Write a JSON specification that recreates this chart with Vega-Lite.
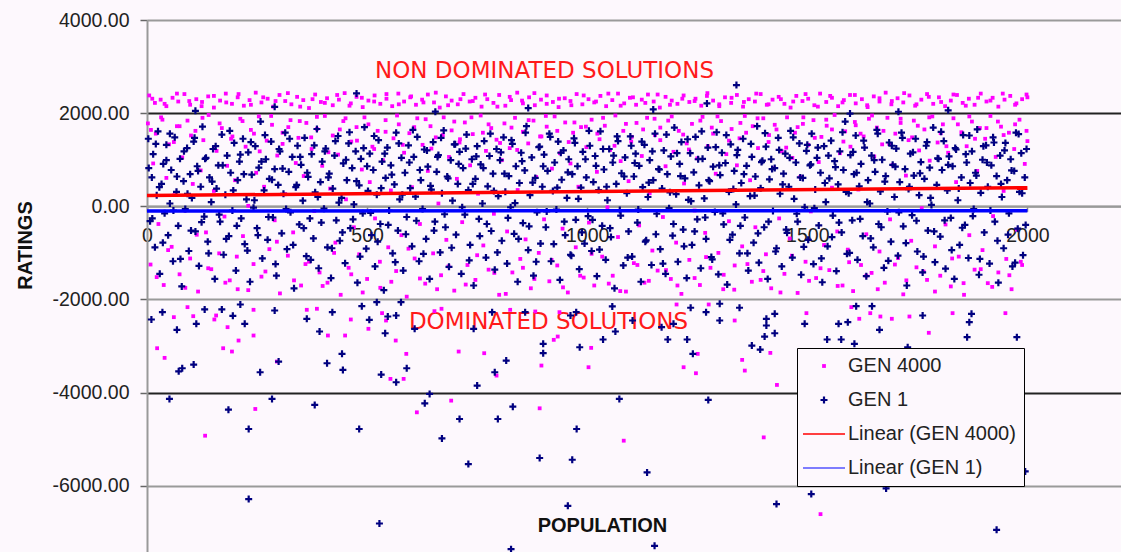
{
"$schema":"https://vega.github.io/schema/vega-lite/v6.json",
"autosize":"none",
"padding":{"left":147,"top":20,"right":0,"bottom":0},
"width":974,
"height":532,
"background":"#fdf8fd",
"config":{"view":{"stroke":null},"font":"Liberation Sans"},
"encoding":{
"x":{"field":"x","type":"quantitative","scale":{"domain":[0,2212.6],"nice":false,"zero":false},
"axis":{"title":"POPULATION","titleFont":"Liberation Sans","titleFontSize":20,"titleFontWeight":"bold","titleColor":"#111","titleX":455,"titleY":319,"titleAlign":"center","titleBaseline":"middle","values":[0,500,1000,1500,2000],"format":"d","labelFont":"Liberation Sans","labelFontSize":19.5,"labelColor":"#222","labelPadding":15,"labelFlush":false,"labelOverlap":false,"tickSize":5,"tickColor":"#888","tickWidth":1.5,"domainColor":"#999","domainWidth":2,"offset":-345.7,"grid":false}},
"y":{"field":"y","type":"quantitative","scale":{"domain":[-7422,4000],"nice":false,"zero":false},
"axis":{"title":"RATINGS","titleFont":"Liberation Sans","titleFontSize":20,"titleFontWeight":"bold","titleColor":"#111","titleX":-122,"titleY":225,"titleAngle":270,"titleAlign":"center","titleBaseline":"middle","values":[-6000,-4000,-2000,0,2000,4000],"labelExpr":"replace(format(datum.value,'.2f'),'\u2212','-')","labelFont":"Liberation Sans","labelFontSize":19.5,"labelColor":"#222","labelPadding":11,"tickSize":7,"tickColor":"#666","tickWidth":1.5,"domainColor":"#999","domainWidth":2,"grid":true,"gridColor":{"condition":{"test":"datum.value === 2000 || datum.value === -4000","value":"#222"},"value":"#9a9a9a"},"gridWidth":2}}
},
"layer":[
{"data":{"values":[{"x":903,"y":2900,"label":"NON DOMINATED SOLUTIONS"},{"x":912,"y":-2490,"label":"DOMINATED SOLUTIONS"}]},
"mark":{"type":"text","font":"DejaVu Sans","fontSize":23,"color":"#ff1a1a","align":"center","baseline":"middle"},
"encoding":{"text":{"field":"label"}}},
{"data":{"values":[
{"x":5,"y":2380},{"x":18,"y":2220},{"x":31,"y":2290},{"x":44,"y":2150},{"x":58,"y":2330},{"x":71,"y":2250},{"x":85,"y":2410},{"x":98,"y":2180},{"x":112,"y":2300},{"x":125,"y":2240},{"x":139,"y":2360},{"x":152,"y":2120},{"x":166,"y":2270},{"x":179,"y":2420},{"x":193,"y":2200},{"x":206,"y":2340},{"x":220,"y":2160},{"x":233,"y":2280},{"x":247,"y":2440},{"x":260,"y":2230},{"x":274,"y":2310},{"x":287,"y":2140},{"x":301,"y":2390},{"x":314,"y":2260},{"x":328,"y":2190},{"x":341,"y":2350},{"x":355,"y":2280},{"x":368,"y":2110},{"x":382,"y":2400},{"x":395,"y":2240},{"x":409,"y":2320},{"x":422,"y":2170},{"x":436,"y":2290},{"x":449,"y":2430},{"x":463,"y":2210},{"x":476,"y":2350},{"x":490,"y":2130},{"x":503,"y":2270},{"x":517,"y":2380},{"x":530,"y":2200},{"x":544,"y":2310},{"x":557,"y":2150},{"x":571,"y":2420},{"x":584,"y":2250},{"x":598,"y":2340},{"x":611,"y":2180},{"x":625,"y":2290},{"x":638,"y":2400},{"x":652,"y":2230},{"x":665,"y":2120},{"x":679,"y":2360},{"x":692,"y":2270},{"x":706,"y":2190},{"x":719,"y":2410},{"x":733,"y":2250},{"x":746,"y":2330},{"x":760,"y":2140},{"x":773,"y":2300},{"x":787,"y":2220},{"x":800,"y":2390},{"x":814,"y":2160},{"x":827,"y":2280},{"x":841,"y":2440},{"x":854,"y":2210},{"x":868,"y":2340},{"x":881,"y":2170},{"x":895,"y":2290},{"x":908,"y":2380},{"x":922,"y":2240},{"x":935,"y":2130},{"x":949,"y":2320},{"x":962,"y":2260},{"x":976,"y":2410},{"x":989,"y":2190},{"x":1003,"y":2300},{"x":1016,"y":2230},{"x":1030,"y":2370},{"x":1043,"y":2150},{"x":1057,"y":2280},{"x":1070,"y":2420},{"x":1084,"y":2210},{"x":1097,"y":2330},{"x":1111,"y":2180},{"x":1124,"y":2290},{"x":1138,"y":2400},{"x":1151,"y":2250},{"x":1165,"y":2120},{"x":1178,"y":2350},{"x":1192,"y":2270},{"x":1205,"y":2200},{"x":1219,"y":2380},{"x":1232,"y":2240},{"x":1246,"y":2310},{"x":1259,"y":2160},{"x":1273,"y":2430},{"x":1286,"y":2270},{"x":1300,"y":2190},{"x":1313,"y":2340},{"x":1327,"y":2220},{"x":1340,"y":2390},{"x":1354,"y":2140},{"x":1367,"y":2300},{"x":1381,"y":2250},{"x":1394,"y":2410},{"x":1408,"y":2180},{"x":1421,"y":2290},{"x":1435,"y":2350},{"x":1448,"y":2200},{"x":1462,"y":2120},{"x":1475,"y":2370},{"x":1489,"y":2260},{"x":1502,"y":2310},{"x":1516,"y":2170},{"x":1529,"y":2420},{"x":1543,"y":2240},{"x":1556,"y":2330},{"x":1570,"y":2150},{"x":1583,"y":2280},{"x":1597,"y":2390},{"x":1610,"y":2210},{"x":1624,"y":2300},{"x":1637,"y":2130},{"x":1651,"y":2360},{"x":1664,"y":2250},{"x":1678,"y":2440},{"x":1691,"y":2190},{"x":1705,"y":2320},{"x":1718,"y":2230},{"x":1732,"y":2380},{"x":1745,"y":2160},{"x":1759,"y":2290},{"x":1772,"y":2410},{"x":1786,"y":2200},{"x":1799,"y":2340},{"x":1813,"y":2150},{"x":1826,"y":2270},{"x":1840,"y":2390},{"x":1853,"y":2220},{"x":1867,"y":2310},{"x":1880,"y":2180},{"x":1894,"y":2420},{"x":1907,"y":2250},{"x":1921,"y":2330},{"x":1934,"y":2140},{"x":1948,"y":2290},{"x":1961,"y":2370},{"x":1975,"y":2210},{"x":1988,"y":2300},{"x":1998,"y":2400},
{"x":12,"y":2310},{"x":40,"y":2200},{"x":68,"y":2420},{"x":96,"y":2260},{"x":124,"y":2150},{"x":152,"y":2370},{"x":180,"y":2230},{"x":208,"y":2410},{"x":236,"y":2180},{"x":264,"y":2340},{"x":292,"y":2260},{"x":320,"y":2430},{"x":348,"y":2140},{"x":376,"y":2300},{"x":404,"y":2220},{"x":432,"y":2390},{"x":460,"y":2160},{"x":488,"y":2330},{"x":516,"y":2250},{"x":544,"y":2410},{"x":572,"y":2190},{"x":600,"y":2360},{"x":628,"y":2230},{"x":656,"y":2440},{"x":684,"y":2170},{"x":712,"y":2300},{"x":740,"y":2260},{"x":768,"y":2400},{"x":796,"y":2140},{"x":824,"y":2350},{"x":852,"y":2270},{"x":880,"y":2430},{"x":908,"y":2200},{"x":936,"y":2310},{"x":964,"y":2170},{"x":992,"y":2380},{"x":1020,"y":2250},{"x":1048,"y":2420},{"x":1076,"y":2160},{"x":1104,"y":2340},{"x":1132,"y":2220},{"x":1160,"y":2400},{"x":1188,"y":2180},{"x":1216,"y":2310},{"x":1244,"y":2260},{"x":1272,"y":2370},{"x":1300,"y":2150},{"x":1328,"y":2330},{"x":1356,"y":2240},{"x":1384,"y":2420},{"x":1412,"y":2190},{"x":1440,"y":2300},{"x":1468,"y":2250},{"x":1496,"y":2410},{"x":1524,"y":2140},{"x":1552,"y":2370},{"x":1580,"y":2230},{"x":1608,"y":2390},{"x":1636,"y":2170},{"x":1664,"y":2320},{"x":1692,"y":2260},{"x":1720,"y":2430},{"x":1748,"y":2190},{"x":1776,"y":2350},{"x":1804,"y":2240},{"x":1832,"y":2400},{"x":1860,"y":2160},{"x":1888,"y":2330},{"x":1916,"y":2270},{"x":1944,"y":2420},{"x":1972,"y":2180},{"x":2000,"y":2340},
{"x":2,"y":1780},{"x":8,"y":-1250},{"x":14,"y":920},{"x":20,"y":1560},{"x":26,"y":-380},{"x":32,"y":1910},{"x":38,"y":-1690},{"x":44,"y":610},{"x":50,"y":1330},{"x":56,"y":-870},{"x":62,"y":240},{"x":68,"y":1720},{"x":74,"y":-1460},{"x":80,"y":1050},{"x":86,"y":-90},{"x":92,"y":1840},{"x":98,"y":-1120},{"x":104,"y":480},{"x":110,"y":1620},{"x":116,"y":-1830},{"x":122,"y":770},{"x":128,"y":1420},{"x":134,"y":-560},{"x":140,"y":1960},{"x":146,"y":-1350},{"x":152,"y":330},{"x":158,"y":1190},{"x":164,"y":-1010},{"x":170,"y":1680},{"x":176,"y":-220},{"x":182,"y":870},{"x":188,"y":-1590},{"x":194,"y":1500},
{"x":200,"y":560},{"x":206,"y":-1780},{"x":212,"y":1880},{"x":218,"y":-640},{"x":224,"y":1280},{"x":230,"y":10},{"x":236,"y":1640},{"x":242,"y":-1240},{"x":248,"y":720},{"x":254,"y":1930},{"x":260,"y":-1510},{"x":266,"y":420},{"x":272,"y":1410},{"x":278,"y":-920},{"x":284,"y":1750},{"x":290,"y":-300},{"x":296,"y":1090},{"x":302,"y":-1870},{"x":308,"y":1580},{"x":314,"y":260},{"x":320,"y":-1060},{"x":326,"y":1850},{"x":332,"y":-560},{"x":338,"y":930},{"x":344,"y":1470},{"x":350,"y":-1700},{"x":356,"y":650},{"x":362,"y":1790},{"x":368,"y":-1190},{"x":374,"y":1230},{"x":380,"y":-100},{"x":386,"y":1660},{"x":392,"y":-1420},
{"x":398,"y":870},{"x":404,"y":1940},{"x":410,"y":-1640},{"x":416,"y":380},{"x":422,"y":1520},{"x":428,"y":-780},{"x":434,"y":1110},{"x":440,"y":-1900},{"x":446,"y":1830},{"x":452,"y":150},{"x":458,"y":-1320},{"x":464,"y":1390},{"x":470,"y":-450},{"x":476,"y":1700},{"x":482,"y":-1030},{"x":488,"y":790},{"x":494,"y":1910},{"x":500,"y":-1560},{"x":506,"y":520},{"x":512,"y":1280},{"x":518,"y":-260},{"x":524,"y":1620},{"x":530,"y":-1750},{"x":536,"y":990},{"x":542,"y":1850},{"x":548,"y":-880},{"x":554,"y":340},{"x":560,"y":1460},{"x":566,"y":-1390},{"x":572,"y":1760},{"x":578,"y":-620},{"x":584,"y":1150},{"x":590,"y":-1940},{"x":596,"y":1570},
{"x":602,"y":410},{"x":608,"y":-1120},{"x":614,"y":1890},{"x":620,"y":-380},{"x":626,"y":1320},{"x":632,"y":-1660},{"x":638,"y":760},{"x":644,"y":1720},{"x":650,"y":-1010},{"x":656,"y":1480},{"x":662,"y":60},{"x":668,"y":-1480},{"x":674,"y":1910},{"x":680,"y":-720},{"x":686,"y":1060},{"x":692,"y":1630},{"x":698,"y":-1810},{"x":704,"y":590},{"x":710,"y":1370},{"x":716,"y":-340},{"x":722,"y":1800},{"x":728,"y":-1260},{"x":734,"y":880},{"x":740,"y":1550},{"x":746,"y":-1580},{"x":752,"y":270},{"x":758,"y":1950},{"x":764,"y":-840},{"x":770,"y":1190},{"x":776,"y":-1360},{"x":782,"y":1680},{"x":788,"y":-160},{"x":794,"y":1430},
{"x":800,"y":-1900},{"x":806,"y":990},{"x":812,"y":1780},{"x":818,"y":-540},{"x":824,"y":1250},{"x":830,"y":-1420},{"x":836,"y":1900},{"x":842,"y":350},{"x":848,"y":-1130},{"x":854,"y":1600},{"x":860,"y":-710},{"x":866,"y":1350},{"x":872,"y":-1760},{"x":878,"y":1840},{"x":884,"y":630},{"x":890,"y":-1000},{"x":896,"y":1500},{"x":902,"y":-280},{"x":908,"y":1710},{"x":914,"y":-1610},{"x":920,"y":810},{"x":926,"y":1930},{"x":932,"y":-1270},{"x":938,"y":1140},{"x":944,"y":-480},{"x":950,"y":1800},{"x":956,"y":-1850},{"x":962,"y":920},{"x":968,"y":1580},{"x":974,"y":-880},{"x":980,"y":420},{"x":986,"y":1700},{"x":992,"y":-1530},{"x":998,"y":1270},
{"x":1004,"y":-350},{"x":1010,"y":1860},{"x":1016,"y":-1700},{"x":1022,"y":740},{"x":1028,"y":1440},{"x":1034,"y":-1080},{"x":1040,"y":1730},{"x":1046,"y":-20},{"x":1052,"y":1210},{"x":1058,"y":-1490},{"x":1064,"y":1950},{"x":1070,"y":-660},{"x":1076,"y":970},{"x":1082,"y":1620},{"x":1088,"y":-1830},{"x":1094,"y":540},{"x":1100,"y":1390},{"x":1106,"y":-1220},{"x":1112,"y":1790},{"x":1118,"y":-410},{"x":1124,"y":1080},{"x":1130,"y":-1640},{"x":1136,"y":1900},{"x":1142,"y":280},{"x":1148,"y":-950},{"x":1154,"y":1530},{"x":1160,"y":-1380},{"x":1166,"y":1690},{"x":1172,"y":-230},{"x":1178,"y":860},{"x":1184,"y":1840},{"x":1190,"y":-1560},{"x":1196,"y":1170},
{"x":1202,"y":-780},{"x":1208,"y":1620},{"x":1214,"y":-1880},{"x":1220,"y":490},{"x":1226,"y":1350},{"x":1232,"y":-1150},{"x":1238,"y":1770},{"x":1244,"y":-90},{"x":1250,"y":1030},{"x":1256,"y":-1690},{"x":1262,"y":1920},{"x":1268,"y":-570},{"x":1274,"y":1290},{"x":1280,"y":-1320},{"x":1286,"y":1560},{"x":1292,"y":700},{"x":1298,"y":-1000},{"x":1304,"y":1830},{"x":1310,"y":-1470},{"x":1316,"y":1120},{"x":1322,"y":-320},{"x":1328,"y":1660},{"x":1334,"y":-1790},{"x":1340,"y":880},{"x":1346,"y":1460},{"x":1352,"y":-860},{"x":1358,"y":1940},{"x":1364,"y":-1240},{"x":1370,"y":560},{"x":1376,"y":1720},{"x":1382,"y":-450},{"x":1388,"y":1250},{"x":1394,"y":-1580},
{"x":1400,"y":1890},{"x":1406,"y":-1030},{"x":1412,"y":1380},{"x":1418,"y":-1760},{"x":1424,"y":820},{"x":1430,"y":1650},{"x":1436,"y":-260},{"x":1442,"y":1180},{"x":1448,"y":-1450},{"x":1454,"y":1910},{"x":1460,"y":-690},{"x":1466,"y":1040},{"x":1472,"y":1580},{"x":1478,"y":-1860},{"x":1484,"y":630},{"x":1490,"y":1770},{"x":1496,"y":-1190},{"x":1502,"y":1320},{"x":1508,"y":-110},{"x":1514,"y":1850},{"x":1520,"y":-1540},{"x":1526,"y":950},{"x":1532,"y":1490},{"x":1538,"y":-830},{"x":1544,"y":1730},{"x":1550,"y":-1370},{"x":1556,"y":400},{"x":1562,"y":1960},{"x":1568,"y":-540},{"x":1574,"y":1140},{"x":1580,"y":-1700},{"x":1586,"y":1610},{"x":1592,"y":-930},{"x":1598,"y":1280},
{"x":1604,"y":-1820},{"x":1610,"y":1740},{"x":1616,"y":360},{"x":1622,"y":-1260},{"x":1628,"y":1500},{"x":1634,"y":-600},{"x":1640,"y":1880},{"x":1646,"y":-1430},{"x":1652,"y":1070},{"x":1658,"y":1690},{"x":1664,"y":-970},{"x":1670,"y":1330},{"x":1676,"y":-1640},{"x":1682,"y":1900},{"x":1688,"y":-280},{"x":1694,"y":890},{"x":1700,"y":1560},{"x":1706,"y":-1110},{"x":1712,"y":1790},{"x":1718,"y":-1890},{"x":1724,"y":660},{"x":1730,"y":1420},{"x":1736,"y":-740},{"x":1742,"y":1840},{"x":1748,"y":-1310},{"x":1754,"y":1200},{"x":1760,"y":-40},{"x":1766,"y":1650},{"x":1772,"y":-1580},{"x":1778,"y":980},{"x":1784,"y":1930},{"x":1790,"y":-860},{"x":1796,"y":1370},
{"x":1802,"y":-1490},{"x":1808,"y":1760},{"x":1814,"y":-390},{"x":1820,"y":1150},{"x":1826,"y":-1720},{"x":1832,"y":1890},{"x":1838,"y":520},{"x":1844,"y":-1080},{"x":1850,"y":1590},{"x":1856,"y":-1900},{"x":1862,"y":1290},{"x":1868,"y":-620},{"x":1874,"y":1820},{"x":1880,"y":-1360},{"x":1886,"y":760},{"x":1892,"y":1680},{"x":1898,"y":-940},{"x":1904,"y":1450},{"x":1910,"y":-1650},{"x":1916,"y":1940},{"x":1922,"y":-210},{"x":1928,"y":1060},{"x":1934,"y":-1420},{"x":1940,"y":1710},{"x":1946,"y":330},{"x":1952,"y":-1130},{"x":1958,"y":1580},{"x":1964,"y":-1780},{"x":1970,"y":1230},{"x":1976,"y":-500},{"x":1982,"y":1860},{"x":1988,"y":-1260},{"x":1994,"y":910},{"x":2000,"y":1400},
{"x":9,"y":1640},{"x":22,"y":-1520},{"x":35,"y":1860},{"x":48,"y":-940},{"x":61,"y":1380},{"x":74,"y":1720},{"x":87,"y":-1750},{"x":100,"y":1520},{"x":113,"y":-610},{"x":126,"y":1900},{"x":139,"y":-1330},{"x":152,"y":1250},{"x":165,"y":1780},{"x":178,"y":-1640},{"x":191,"y":1450},{"x":204,"y":-1080},{"x":217,"y":1830},{"x":230,"y":-1800},{"x":243,"y":1560},{"x":256,"y":1180},{"x":269,"y":-1400},{"x":282,"y":1940},{"x":295,"y":-760},{"x":308,"y":1340},{"x":321,"y":1700},
{"x":334,"y":-1590},{"x":347,"y":1830},{"x":360,"y":-1240},{"x":373,"y":1480},{"x":386,"y":1920},{"x":399,"y":-1710},{"x":412,"y":1160},{"x":425,"y":-1000},{"x":438,"y":1650},{"x":451,"y":1890},{"x":464,"y":-1460},{"x":477,"y":1410},{"x":490,"y":-1850},{"x":503,"y":1760},{"x":516,"y":1230},{"x":529,"y":-1190},{"x":542,"y":1600},{"x":555,"y":-1620},{"x":568,"y":1950},{"x":581,"y":1320},{"x":594,"y":-910},{"x":607,"y":1700},{"x":620,"y":-1550},{"x":633,"y":1870},{"x":646,"y":1240},
{"x":659,"y":-1780},{"x":672,"y":1530},{"x":685,"y":-1290},{"x":698,"y":1820},{"x":711,"y":1440},{"x":724,"y":-1680},{"x":737,"y":1910},{"x":750,"y":-1050},{"x":763,"y":1580},{"x":776,"y":1760},{"x":789,"y":-1430},{"x":802,"y":1360},{"x":815,"y":-1880},{"x":828,"y":1690},{"x":841,"y":1210},{"x":854,"y":-1320},{"x":867,"y":1850},{"x":880,"y":-1560},{"x":893,"y":1500},{"x":906,"y":1940},{"x":919,"y":-1150},{"x":932,"y":1620},{"x":945,"y":-1740},{"x":958,"y":1380},{"x":971,"y":1800},
{"x":984,"y":-1490},{"x":997,"y":1710},{"x":1010,"y":-1020},{"x":1023,"y":1560},{"x":1036,"y":1900},{"x":1049,"y":-1660},{"x":1062,"y":1300},{"x":1075,"y":-1820},{"x":1088,"y":1770},{"x":1101,"y":1490},{"x":1114,"y":-1260},{"x":1127,"y":1650},{"x":1140,"y":-1600},{"x":1153,"y":1880},{"x":1166,"y":1420},{"x":1179,"y":-1370},{"x":1192,"y":1930},{"x":1205,"y":-1700},{"x":1218,"y":1540},{"x":1231,"y":1220},{"x":1244,"y":-1540},{"x":1257,"y":1840},{"x":1270,"y":-1090},{"x":1283,"y":1690},{"x":1296,"y":1930},
{"x":1309,"y":-1780},{"x":1322,"y":1410},{"x":1335,"y":-1270},{"x":1348,"y":1790},{"x":1361,"y":1580},{"x":1374,"y":-1620},{"x":1387,"y":1890},{"x":1400,"y":-1390},{"x":1413,"y":1530},{"x":1426,"y":1750},{"x":1439,"y":-1850},{"x":1452,"y":1260},{"x":1465,"y":-1060},{"x":1478,"y":1700},{"x":1491,"y":1910},{"x":1504,"y":-1600},{"x":1517,"y":1470},{"x":1530,"y":-1330},{"x":1543,"y":1860},{"x":1556,"y":1650},{"x":1569,"y":-1710},{"x":1582,"y":1390},{"x":1595,"y":-1200},{"x":1608,"y":1810},{"x":1621,"y":1560},
{"x":1634,"y":-1490},{"x":1647,"y":1950},{"x":1660,"y":-1780},{"x":1673,"y":1620},{"x":1686,"y":1340},{"x":1699,"y":-1250},{"x":1712,"y":1880},{"x":1725,"y":-1590},{"x":1738,"y":1480},{"x":1751,"y":1730},{"x":1764,"y":-1400},{"x":1777,"y":1910},{"x":1790,"y":-1830},{"x":1803,"y":1570},{"x":1816,"y":1290},{"x":1829,"y":-1120},{"x":1842,"y":1760},{"x":1855,"y":-1650},{"x":1868,"y":1930},{"x":1881,"y":1450},{"x":1894,"y":-1350},{"x":1907,"y":1680},{"x":1920,"y":-1730},{"x":1933,"y":1820},{"x":1946,"y":1530},{"x":1959,"y":-1480},{"x":1972,"y":1760},{"x":1985,"y":-1190},{"x":1998,"y":1620},
{"x":92,"y":-2165},{"x":61,"y":-2380},{"x":105,"y":-2359},{"x":157,"y":-2344},{"x":153,"y":-2430},{"x":183,"y":-2595},{"x":242,"y":-2222},{"x":242,"y":-2774},{"x":208,"y":-2882},{"x":23,"y":-3047},{"x":40,"y":-3254},{"x":173,"y":-3047},{"x":193,"y":-3118},{"x":295,"y":-3333},{"x":363,"y":-2222},{"x":386,"y":-2200},{"x":411,"y":-2774},{"x":450,"y":-2774},{"x":463,"y":-2430},{"x":503,"y":-2630},{"x":534,"y":-2294},{"x":543,"y":-2452},{"x":565,"y":-2882},{"x":589,"y":-3168},{"x":553,"y":-3705},{"x":583,"y":-3705},{"x":246,"y":-4351},{"x":132,"y":-4925},{"x":613,"y":-4423},{"x":691,"y":-4172},{"x":653,"y":-2251},{"x":669,"y":-2200},{"x":708,"y":-3118},
{"x":766,"y":-3154},{"x":794,"y":-3634},{"x":896,"y":-3419},{"x":924,"y":-2867},{"x":933,"y":-2796},{"x":1009,"y":-3039},{"x":1003,"y":-3455},{"x":1219,"y":-3455},{"x":1247,"y":-3584},{"x":1251,"y":-3168},{"x":1352,"y":-3297},{"x":1358,"y":-3527},{"x":1416,"y":-3147},{"x":1431,"y":-3835},{"x":1335,"y":-2452},{"x":1276,"y":-2108},{"x":1203,"y":-2108},{"x":937,"y":-2273},{"x":882,"y":-2258},{"x":825,"y":-2222},{"x":892,"y":-4337},{"x":1083,"y":-5032},{"x":1401,"y":-4961},
{"x":1498,"y":-2294},{"x":1600,"y":-2165},{"x":1643,"y":-2294},{"x":1666,"y":-2366},{"x":1692,"y":-2415},{"x":1732,"y":-2366},{"x":1830,"y":-2294},{"x":1950,"y":-2294},{"x":1618,"y":-2415},{"x":1776,"y":-2716},{"x":1530,"y":-6609}
]},
"mark":{"type":"point","filled":true,"size":100,"opacity":1,"strokeWidth":0},
"encoding":{
"color":{"datum":"GEN 4000","type":"nominal","scale":{"domain":["GEN 4000","GEN 1","Linear (GEN 4000)","Linear (GEN 1)"],"range":["#ff00ff","#000080","#ff0000","#0000ff"]},
"legend":{"title":null,"orient":"none","legendX":650,"legendY":328,"padding":8,"rowPadding":14,"symbolOffset":9,"labelOffset":14,"labelFont":"Liberation Sans","labelFontSize":20,"labelColor":"#222","labelLimit":0,"fillColor":"#fdf8fd","strokeColor":"#000","symbolSize":100,"symbolStrokeWidth":0,
"encode":{"legend":{"update":{"strokeWidth":{"value":1.5}}},"symbols":{"update":{"opacity":{"value":1}}}}}},
"shape":{"datum":"GEN 4000","type":"nominal","scale":{"domain":["GEN 4000","GEN 1","Linear (GEN 4000)","Linear (GEN 1)"],"range":["M-0.38,-0.38H0.38V0.38H-0.38Z","M-0.22,-0.7H0.22V-0.22H0.7V0.22H0.22V0.7H-0.22V0.22H-0.7V-0.22H-0.22Z","M-4.2,-0.14H4.2V0.14H-4.2Z","M-4.2,-0.12H4.2V0.12H-4.2Z"]},
"legend":{"title":null,"orient":"none","legendX":650,"legendY":328,"padding":8,"rowPadding":14,"symbolOffset":9,"labelOffset":14,"labelFont":"Liberation Sans","labelFontSize":20,"labelColor":"#222","labelLimit":0,"fillColor":"#fdf8fd","strokeColor":"#000","symbolSize":100,"symbolStrokeWidth":0}}
}},
{"data":{"values":[
{"x":3,"y":1450},{"x":7,"y":-320},{"x":11,"y":620},{"x":14,"y":1120},{"x":18,"y":-880},{"x":22,"y":240},{"x":25,"y":1610},{"x":29,"y":-1450},{"x":33,"y":480},{"x":37,"y":910},{"x":40,"y":-150},{"x":44,"y":1320},{"x":48,"y":-620},{"x":52,"y":60},{"x":55,"y":780},{"x":59,"y":-1180},{"x":63,"y":1480},{"x":67,"y":310},{"x":71,"y":-420},{"x":75,"y":1020},{"x":79,"y":-1720},{"x":83,"y":540},{"x":87,"y":-60},{"x":91,"y":1250},{"x":95,"y":-960},{"x":98,"y":690},
{"x":102,"y":180},{"x":106,"y":1390},{"x":110,"y":-540},{"x":114,"y":860},{"x":118,"y":-1280},{"x":122,"y":420},{"x":126,"y":1710},{"x":130,"y":-220},{"x":134,"y":1040},{"x":138,"y":-760},{"x":142,"y":620},{"x":146,"y":90},{"x":150,"y":1230},{"x":154,"y":-1560},{"x":158,"y":380},{"x":162,"y":880},{"x":166,"y":-330},{"x":170,"y":1540},{"x":174,"y":-1040},{"x":178,"y":250},{"x":182,"y":1090},{"x":186,"y":-640},{"x":190,"y":720},{"x":194,"y":-90},{"x":198,"y":1360},
{"x":202,"y":-1380},{"x":206,"y":560},{"x":210,"y":960},{"x":214,"y":-260},{"x":218,"y":1450},{"x":222,"y":-810},{"x":226,"y":150},{"x":230,"y":1160},{"x":234,"y":-1620},{"x":238,"y":680},{"x":242,"y":-30},{"x":246,"y":1290},{"x":250,"y":-470},{"x":254,"y":830},{"x":258,"y":1820},{"x":262,"y":-1120},{"x":266,"y":340},{"x":270,"y":1010},{"x":274,"y":-720},{"x":278,"y":590},{"x":282,"y":1390},{"x":286,"y":-240},{"x":290,"y":800},{"x":294,"y":-1490},{"x":298,"y":460},
{"x":302,"y":1180},{"x":306,"y":-580},{"x":310,"y":270},{"x":314,"y":1580},{"x":318,"y":-920},{"x":322,"y":740},{"x":326,"y":-130},{"x":330,"y":1060},{"x":334,"y":-1760},{"x":338,"y":410},{"x":342,"y":1300},{"x":346,"y":-390},{"x":350,"y":890},{"x":354,"y":120},{"x":358,"y":1470},{"x":362,"y":-1070},{"x":366,"y":630},{"x":370,"y":-260},{"x":374,"y":1120},{"x":378,"y":-690},{"x":382,"y":300},{"x":386,"y":1660},{"x":390,"y":-1330},{"x":394,"y":520},{"x":398,"y":960},
{"x":402,"y":-50},{"x":406,"y":1240},{"x":410,"y":-880},{"x":414,"y":700},{"x":418,"y":-1540},{"x":422,"y":380},{"x":426,"y":1090},{"x":430,"y":-300},{"x":434,"y":1510},{"x":438,"y":-740},{"x":442,"y":180},{"x":446,"y":920},{"x":450,"y":-1220},{"x":454,"y":560},{"x":458,"y":1350},{"x":462,"y":-470},{"x":466,"y":820},{"x":470,"y":40},{"x":474,"y":1180},{"x":478,"y":-1640},{"x":482,"y":450},{"x":486,"y":1020},{"x":490,"y":-150},{"x":494,"y":1700},{"x":498,"y":-910},
{"x":502,"y":330},{"x":506,"y":1130},{"x":510,"y":-620},{"x":514,"y":780},{"x":518,"y":-1290},{"x":522,"y":250},{"x":526,"y":1420},{"x":530,"y":-380},{"x":534,"y":960},{"x":538,"y":-1800},{"x":542,"y":610},{"x":546,"y":1260},{"x":550,"y":-90},{"x":554,"y":880},{"x":558,"y":-1010},{"x":562,"y":470},{"x":566,"y":1580},{"x":570,"y":-520},{"x":574,"y":150},{"x":578,"y":1040},{"x":582,"y":-1380},{"x":586,"y":720},{"x":590,"y":-230},{"x":594,"y":1310},{"x":598,"y":390},
{"x":602,"y":-860},{"x":606,"y":1060},{"x":610,"y":210},{"x":614,"y":1490},{"x":618,"y":-1180},{"x":622,"y":560},{"x":626,"y":-60},{"x":630,"y":1220},{"x":634,"y":-700},{"x":638,"y":850},{"x":642,"y":-1560},{"x":646,"y":360},{"x":650,"y":1380},{"x":654,"y":-330},{"x":658,"y":740},{"x":662,"y":1100},{"x":666,"y":-990},{"x":670,"y":280},{"x":674,"y":1630},{"x":678,"y":-450},{"x":682,"y":640},{"x":686,"y":-1300},{"x":690,"y":990},{"x":694,"y":120},{"x":698,"y":1330},
{"x":702,"y":-610},{"x":706,"y":480},{"x":710,"y":1170},{"x":714,"y":-1450},{"x":718,"y":820},{"x":722,"y":-180},{"x":726,"y":1540},{"x":730,"y":350},{"x":734,"y":-830},{"x":738,"y":1010},{"x":742,"y":-1700},{"x":746,"y":590},{"x":750,"y":1290},{"x":754,"y":-270},{"x":758,"y":900},{"x":762,"y":60},{"x":766,"y":1400},{"x":770,"y":-1100},{"x":774,"y":430},{"x":778,"y":1080},{"x":782,"y":-530},{"x":786,"y":700},{"x":790,"y":-1360},{"x":794,"y":1230},{"x":798,"y":220},
{"x":802,"y":990},{"x":806,"y":-740},{"x":810,"y":1480},{"x":814,"y":310},{"x":818,"y":-1230},{"x":822,"y":650},{"x":826,"y":-20},{"x":830,"y":1340},{"x":834,"y":-590},{"x":838,"y":860},{"x":842,"y":-1620},{"x":846,"y":500},{"x":850,"y":1150},{"x":854,"y":-360},{"x":858,"y":770},{"x":862,"y":1720},{"x":866,"y":-940},{"x":870,"y":240},{"x":874,"y":1050},{"x":878,"y":-1490},{"x":882,"y":610},{"x":886,"y":-130},{"x":890,"y":1270},{"x":894,"y":-800},{"x":898,"y":420},
{"x":902,"y":1110},{"x":906,"y":-450},{"x":910,"y":760},{"x":914,"y":1560},{"x":918,"y":-1180},{"x":922,"y":330},{"x":926,"y":940},{"x":930,"y":-70},{"x":934,"y":1390},{"x":938,"y":-1580},{"x":942,"y":570},{"x":946,"y":1200},{"x":950,"y":-620},{"x":954,"y":180},{"x":958,"y":1010},{"x":962,"y":-1040},{"x":966,"y":690},{"x":970,"y":1460},{"x":974,"y":-290},{"x":978,"y":860},{"x":982,"y":-1350},{"x":986,"y":400},{"x":990,"y":1170},{"x":994,"y":-800},{"x":998,"y":620},
{"x":1002,"y":-210},{"x":1006,"y":1300},{"x":1010,"y":-960},{"x":1014,"y":520},{"x":1018,"y":1080},{"x":1022,"y":-1500},{"x":1026,"y":350},{"x":1030,"y":1610},{"x":1034,"y":-420},{"x":1038,"y":790},{"x":1042,"y":-1150},{"x":1046,"y":130},{"x":1050,"y":1230},{"x":1054,"y":-660},{"x":1058,"y":940},{"x":1062,"y":-1760},{"x":1066,"y":480},{"x":1070,"y":1400},{"x":1074,"y":-80},{"x":1078,"y":710},{"x":1082,"y":-1270},{"x":1086,"y":1050},{"x":1090,"y":280},{"x":1094,"y":-540},{"x":1098,"y":1500},
{"x":1102,"y":-1080},{"x":1106,"y":640},{"x":1110,"y":1130},{"x":1114,"y":-350},{"x":1118,"y":870},{"x":1122,"y":-1620},{"x":1126,"y":410},{"x":1130,"y":1320},{"x":1134,"y":-730},{"x":1138,"y":200},{"x":1142,"y":990},{"x":1146,"y":-1260},{"x":1150,"y":560},{"x":1154,"y":1560},{"x":1158,"y":-160},{"x":1162,"y":800},{"x":1166,"y":-920},{"x":1170,"y":380},{"x":1174,"y":1200},{"x":1178,"y":-1450},{"x":1182,"y":690},{"x":1186,"y":-40},{"x":1190,"y":1070},{"x":1194,"y":-630},{"x":1198,"y":1690},
{"x":1202,"y":260},{"x":1206,"y":-1190},{"x":1210,"y":910},{"x":1214,"y":1380},{"x":1218,"y":-500},{"x":1222,"y":600},{"x":1226,"y":-1540},{"x":1230,"y":140},{"x":1234,"y":1140},{"x":1238,"y":-830},{"x":1242,"y":730},{"x":1246,"y":1490},{"x":1250,"y":-280},{"x":1254,"y":450},{"x":1258,"y":-1330},{"x":1262,"y":1020},{"x":1266,"y":170},{"x":1270,"y":-700},{"x":1274,"y":1260},{"x":1278,"y":540},{"x":1282,"y":-1090},{"x":1286,"y":850},{"x":1290,"y":-120},{"x":1294,"y":1590},{"x":1298,"y":-1460},
{"x":1302,"y":670},{"x":1306,"y":1150},{"x":1310,"y":-390},{"x":1314,"y":930},{"x":1318,"y":-1680},{"x":1322,"y":310},{"x":1326,"y":1330},{"x":1330,"y":-610},{"x":1334,"y":760},{"x":1338,"y":40},{"x":1342,"y":1210},{"x":1346,"y":-1010},{"x":1350,"y":500},{"x":1354,"y":1450},{"x":1358,"y":-240},{"x":1362,"y":870},{"x":1366,"y":-1380},{"x":1370,"y":220},{"x":1374,"y":1060},{"x":1378,"y":-780},{"x":1382,"y":640},{"x":1386,"y":1720},{"x":1390,"y":-1210},{"x":1394,"y":390},{"x":1398,"y":980},
{"x":1402,"y":-450},{"x":1406,"y":1280},{"x":1410,"y":-1560},{"x":1414,"y":580},{"x":1418,"y":1010},{"x":1422,"y":-100},{"x":1426,"y":820},{"x":1430,"y":-900},{"x":1434,"y":1470},{"x":1438,"y":270},{"x":1442,"y":-1290},{"x":1446,"y":700},{"x":1450,"y":1130},{"x":1454,"y":-570},{"x":1458,"y":420},{"x":1462,"y":1620},{"x":1466,"y":-1100},{"x":1470,"y":160},{"x":1474,"y":940},{"x":1478,"y":-330},{"x":1482,"y":1350},{"x":1486,"y":-1470},{"x":1490,"y":610},{"x":1494,"y":-20},{"x":1498,"y":1190},
{"x":1502,"y":-720},{"x":1506,"y":880},{"x":1510,"y":1560},{"x":1514,"y":-1240},{"x":1518,"y":360},{"x":1522,"y":1040},{"x":1526,"y":-410},{"x":1530,"y":720},{"x":1534,"y":-1630},{"x":1538,"y":1290},{"x":1542,"y":90},{"x":1546,"y":-860},{"x":1550,"y":600},{"x":1554,"y":1410},{"x":1558,"y":-200},{"x":1562,"y":970},{"x":1566,"y":-1390},{"x":1570,"y":470},{"x":1574,"y":1180},{"x":1578,"y":-560},{"x":1582,"y":780},{"x":1586,"y":1820},{"x":1590,"y":-1020},{"x":1594,"y":280},{"x":1598,"y":1100},
{"x":1602,"y":-300},{"x":1606,"y":690},{"x":1610,"y":1520},{"x":1614,"y":-1150},{"x":1618,"y":430},{"x":1622,"y":910},{"x":1626,"y":-640},{"x":1630,"y":1260},{"x":1634,"y":-1500},{"x":1638,"y":560},{"x":1642,"y":60},{"x":1646,"y":1090},{"x":1650,"y":-880},{"x":1654,"y":740},{"x":1658,"y":1640},{"x":1662,"y":-380},{"x":1666,"y":320},{"x":1670,"y":1000},{"x":1674,"y":-1320},{"x":1678,"y":650},{"x":1682,"y":-110},{"x":1686,"y":1370},{"x":1690,"y":-760},{"x":1694,"y":890},{"x":1698,"y":200},
{"x":1702,"y":1240},{"x":1706,"y":-1060},{"x":1710,"y":520},{"x":1714,"y":1580},{"x":1718,"y":-430},{"x":1722,"y":800},{"x":1726,"y":-1700},{"x":1730,"y":370},{"x":1734,"y":1130},{"x":1738,"y":-190},{"x":1742,"y":660},{"x":1746,"y":1450},{"x":1750,"y":-970},{"x":1754,"y":240},{"x":1758,"y":950},{"x":1762,"y":-1420},{"x":1766,"y":590},{"x":1770,"y":1300},{"x":1774,"y":-520},{"x":1778,"y":830},{"x":1782,"y":30},{"x":1786,"y":1690},{"x":1790,"y":-1200},{"x":1794,"y":460},{"x":1798,"y":1020},
{"x":1802,"y":-650},{"x":1806,"y":780},{"x":1810,"y":1400},{"x":1814,"y":-1340},{"x":1818,"y":340},{"x":1822,"y":1070},{"x":1826,"y":-250},{"x":1830,"y":860},{"x":1834,"y":-1560},{"x":1838,"y":1220},{"x":1842,"y":130},{"x":1846,"y":-830},{"x":1850,"y":620},{"x":1854,"y":1530},{"x":1858,"y":-400},{"x":1862,"y":940},{"x":1866,"y":-1110},{"x":1870,"y":500},{"x":1874,"y":1180},{"x":1878,"y":-60},{"x":1882,"y":720},{"x":1886,"y":1650},{"x":1890,"y":-1470},{"x":1894,"y":290},{"x":1898,"y":1000},
{"x":1902,"y":-560},{"x":1906,"y":1310},{"x":1910,"y":420},{"x":1914,"y":-1230},{"x":1918,"y":880},{"x":1922,"y":1480},{"x":1926,"y":-330},{"x":1930,"y":650},{"x":1934,"y":-1640},{"x":1938,"y":1090},{"x":1942,"y":200},{"x":1946,"y":-900},{"x":1950,"y":1360},{"x":1954,"y":560},{"x":1958,"y":-150},{"x":1962,"y":1010},{"x":1966,"y":-1290},{"x":1970,"y":760},{"x":1974,"y":1580},{"x":1978,"y":-480},{"x":1982,"y":310},{"x":1986,"y":1140},{"x":1990,"y":-1050},{"x":1994,"y":620},{"x":1998,"y":1230},
{"x":4,"y":820},{"x":12,"y":-260},{"x":20,"y":1340},{"x":28,"y":410},{"x":36,"y":-780},{"x":44,"y":990},{"x":52,"y":1560},{"x":60,"y":-90},{"x":68,"y":640},{"x":76,"y":-1130},{"x":84,"y":1180},{"x":92,"y":270},{"x":100,"y":-520},{"x":108,"y":1470},{"x":116,"y":760},{"x":124,"y":-340},{"x":132,"y":1020},{"x":140,"y":-1010},{"x":148,"y":530},{"x":156,"y":1290},{"x":164,"y":-180},{"x":172,"y":880},{"x":180,"y":-700},{"x":188,"y":1620},{"x":196,"y":340},
{"x":204,"y":-420},{"x":212,"y":1110},{"x":220,"y":690},{"x":228,"y":-950},{"x":236,"y":1380},{"x":244,"y":130},{"x":252,"y":-620},{"x":260,"y":960},{"x":268,"y":1530},{"x":276,"y":-230},{"x":284,"y":570},{"x":292,"y":-1240},{"x":300,"y":1230},{"x":308,"y":810},{"x":316,"y":-60},{"x":324,"y":1450},{"x":332,"y":-830},{"x":340,"y":460},{"x":348,"y":1060},{"x":356,"y":-470},{"x":364,"y":720},{"x":372,"y":-1150},{"x":380,"y":1310},{"x":388,"y":200},{"x":396,"y":-350},
{"x":404,"y":1180},{"x":412,"y":620},{"x":420,"y":-900},{"x":428,"y":1400},{"x":436,"y":80},{"x":444,"y":-560},{"x":452,"y":1000},{"x":460,"y":1590},{"x":468,"y":-280},{"x":476,"y":540},{"x":484,"y":-1080},{"x":492,"y":1250},{"x":500,"y":860},{"x":508,"y":-140},{"x":516,"y":1510},{"x":524,"y":-760},{"x":532,"y":390},{"x":540,"y":1130},{"x":548,"y":-400},{"x":556,"y":680},{"x":564,"y":-1200},{"x":572,"y":1350},{"x":580,"y":250},{"x":588,"y":-600},{"x":596,"y":940},
{"x":604,"y":1640},{"x":612,"y":-310},{"x":620,"y":780},{"x":628,"y":-1020},{"x":636,"y":1200},{"x":644,"y":440},{"x":652,"y":-520},{"x":660,"y":1060},{"x":668,"y":1470},{"x":676,"y":-170},{"x":684,"y":600},{"x":692,"y":-890},{"x":700,"y":1330},{"x":708,"y":910},{"x":716,"y":-20},{"x":724,"y":1240},{"x":732,"y":-1160},{"x":740,"y":480},{"x":748,"y":1070},{"x":756,"y":-640},{"x":764,"y":820},{"x":772,"y":-380},{"x":780,"y":1560},{"x":788,"y":330},{"x":796,"y":-990},
{"x":804,"y":1160},{"x":812,"y":700},{"x":820,"y":-250},{"x":828,"y":1420},{"x":836,"y":70},{"x":844,"y":-700},{"x":852,"y":970},{"x":860,"y":1580},{"x":868,"y":-430},{"x":876,"y":510},{"x":884,"y":-1190},{"x":892,"y":1280},{"x":900,"y":860},{"x":908,"y":-110},{"x":916,"y":1490},{"x":924,"y":-810},{"x":932,"y":400},{"x":940,"y":1150},{"x":948,"y":-330},{"x":956,"y":730},{"x":964,"y":-1060},{"x":972,"y":1360},{"x":980,"y":160},{"x":988,"y":-560},{"x":996,"y":1010},
{"x":1004,"y":1620},{"x":1012,"y":-290},{"x":1020,"y":870},{"x":1028,"y":-930},{"x":1036,"y":1230},{"x":1044,"y":420},{"x":1052,"y":-470},{"x":1060,"y":1090},{"x":1068,"y":1500},{"x":1076,"y":-200},{"x":1084,"y":640},{"x":1092,"y":-1100},{"x":1100,"y":1300},{"x":1108,"y":930},{"x":1116,"y":-70},{"x":1124,"y":1390},{"x":1132,"y":-760},{"x":1140,"y":510},{"x":1148,"y":1180},{"x":1156,"y":-600},{"x":1164,"y":790},{"x":1172,"y":-1230},{"x":1180,"y":1540},{"x":1188,"y":300},{"x":1196,"y":-380},
{"x":1204,"y":1140},{"x":1212,"y":650},{"x":1220,"y":-860},{"x":1228,"y":1440},{"x":1236,"y":110},{"x":1244,"y":-540},{"x":1252,"y":1010},{"x":1260,"y":1610},{"x":1268,"y":-240},{"x":1276,"y":560},{"x":1284,"y":-1140},{"x":1292,"y":1270},{"x":1300,"y":880},{"x":1308,"y":-150},{"x":1316,"y":1530},{"x":1324,"y":-720},{"x":1332,"y":370},{"x":1340,"y":1100},{"x":1348,"y":-420},{"x":1356,"y":690},{"x":1364,"y":-1010},{"x":1372,"y":1340},{"x":1380,"y":230},{"x":1388,"y":-580},{"x":1396,"y":950},
{"x":1404,"y":1570},{"x":1412,"y":-330},{"x":1420,"y":800},{"x":1428,"y":-970},{"x":1436,"y":1210},{"x":1444,"y":470},{"x":1452,"y":-500},{"x":1460,"y":1040},{"x":1468,"y":1480},{"x":1476,"y":-160},{"x":1484,"y":620},{"x":1492,"y":-870},{"x":1500,"y":1320},{"x":1508,"y":900},{"x":1516,"y":-40},{"x":1524,"y":1260},{"x":1532,"y":-1120},{"x":1540,"y":500},{"x":1548,"y":1090},{"x":1556,"y":-660},{"x":1564,"y":840},{"x":1572,"y":-350},{"x":1580,"y":1590},{"x":1588,"y":310},{"x":1596,"y":-1000},
{"x":1604,"y":1170},{"x":1612,"y":720},{"x":1620,"y":-270},{"x":1628,"y":1410},{"x":1636,"y":90},{"x":1644,"y":-690},{"x":1652,"y":990},{"x":1660,"y":1560},{"x":1668,"y":-450},{"x":1676,"y":530},{"x":1684,"y":-1170},{"x":1692,"y":1300},{"x":1700,"y":850},{"x":1708,"y":-130},{"x":1716,"y":1470},{"x":1724,"y":-790},{"x":1732,"y":420},{"x":1740,"y":1160},{"x":1748,"y":-310},{"x":1756,"y":710},{"x":1764,"y":-1080},{"x":1772,"y":1380},{"x":1780,"y":180},{"x":1788,"y":-540},{"x":1796,"y":1030},
{"x":1804,"y":1600},{"x":1812,"y":-300},{"x":1820,"y":890},{"x":1828,"y":-940},{"x":1836,"y":1250},{"x":1844,"y":380},{"x":1852,"y":-460},{"x":1860,"y":1120},{"x":1868,"y":1520},{"x":1876,"y":-210},{"x":1884,"y":660},{"x":1892,"y":-1130},{"x":1900,"y":1290},{"x":1908,"y":940},{"x":1916,"y":-90},{"x":1924,"y":1370},{"x":1932,"y":-740},{"x":1940,"y":480},{"x":1948,"y":1200},{"x":1956,"y":-610},{"x":1964,"y":770},{"x":1972,"y":-1210},{"x":1980,"y":1550},{"x":1988,"y":280},{"x":1996,"y":-400},
{"x":110,"y":2050},{"x":290,"y":2135},{"x":476,"y":2424},{"x":655,"y":2031},{"x":866,"y":2108},{"x":1150,"y":2080},{"x":1272,"y":2209},{"x":1339,"y":2602},{"x":1597,"y":1990},{"x":1707,"y":2030},{"x":1820,"y":2060},
{"x":10,"y":-2430},{"x":35,"y":-2273},{"x":68,"y":-2652},{"x":112,"y":-2523},{"x":131,"y":-2215},{"x":170,"y":-2215},{"x":195,"y":-2351},{"x":212,"y":-2108},{"x":222,"y":-2523},{"x":290,"y":-2237},{"x":363,"y":-2415},{"x":392,"y":-2688},{"x":421,"y":-2273},{"x":488,"y":-2144},{"x":505,"y":-2437},{"x":522,"y":-2058},{"x":541,"y":-2725},{"x":547,"y":-2366},{"x":566,"y":-2344},{"x":577,"y":-2058},{"x":608,"y":-2630},{"x":72,"y":-3542},{"x":80,"y":-3477},{"x":106,"y":-3398},{"x":257,"y":-3563},{"x":299,"y":-3333},{"x":409,"y":-3370},{"x":443,"y":-3168},{"x":445,"y":-3512},{"x":532,"y":-3613},{"x":566,"y":-3778},{"x":590,"y":-3477},{"x":51,"y":-4136},{"x":185,"y":-4366},{"x":231,"y":-4781},{"x":284,"y":-4136},{"x":381,"y":-4265},{"x":482,"y":-4781},{"x":642,"y":-4028},{"x":631,"y":-4230},{"x":710,"y":-4566},{"x":670,"y":-4983},{"x":730,"y":-5534},{"x":231,"y":-6286},{"x":528,"y":-6810},
{"x":784,"y":-2273},{"x":859,"y":-2273},{"x":742,"y":-2630},{"x":900,"y":-2953},{"x":900,"y":-3154},{"x":816,"y":-3312},{"x":790,"y":-3563},{"x":750,"y":-3849},{"x":962,"y":-2344},{"x":975,"y":-2273},{"x":983,"y":-3026},{"x":1036,"y":-2860},{"x":1064,"y":-2688},{"x":1057,"y":-2150},{"x":1103,"y":-2452},{"x":1169,"y":-2595},{"x":1183,"y":-2860},{"x":1227,"y":-2860},{"x":1196,"y":-2523},{"x":1235,"y":-2178},{"x":1240,"y":-3168},{"x":1270,"y":-2273},{"x":1301,"y":-2092},{"x":1301,"y":-2452},{"x":1346,"y":-2178},{"x":1374,"y":-2989},{"x":1393,"y":-3075},{"x":1403,"y":-2796},{"x":1407,"y":-2559},{"x":1407,"y":-2415},{"x":1426,"y":-2308},{"x":1426,"y":-2725},{"x":797,"y":-4566},{"x":831,"y":-4301},{"x":976,"y":-4781},{"x":1073,"y":-4136},{"x":1275,"y":-4157},{"x":892,"y":-5404},{"x":966,"y":-5441},{"x":1136,"y":-5714},{"x":956,"y":-6430},{"x":1430,"y":-6394},{"x":827,"y":-7361},{"x":1153,"y":-7290},
{"x":1611,"y":-2144},{"x":1647,"y":-2144},{"x":1494,"y":-2523},{"x":1571,"y":-2523},{"x":1592,"y":-2488},{"x":1664,"y":-2652},{"x":1545,"y":-2860},{"x":1577,"y":-2860},{"x":1607,"y":-2953},{"x":1728,"y":-3026},{"x":1762,"y":-2344},{"x":1873,"y":-2308},{"x":1868,"y":-2488},{"x":1863,"y":-2810},{"x":1976,"y":-2810},{"x":1509,"y":-6179},{"x":1679,"y":-6058},{"x":1930,"y":-6946},{"x":1995,"y":-5692}
]},
"mark":{"type":"point","filled":true,"size":100,"opacity":1,"strokeWidth":0},
"encoding":{"color":{"datum":"GEN 1","type":"nominal"},"shape":{"datum":"GEN 1","type":"nominal"}}},
{"data":{"values":[{"x":0,"y":230},{"x":2000,"y":400}]},
"mark":{"type":"line","strokeWidth":3.5},
"encoding":{"color":{"datum":"Linear (GEN 4000)","type":"nominal"}}},
{"data":{"values":[{"x":0,"y":-100},{"x":2000,"y":-95}]},
"mark":{"type":"line","strokeWidth":3.5},
"encoding":{"color":{"datum":"Linear (GEN 1)","type":"nominal"}}}
]
}
